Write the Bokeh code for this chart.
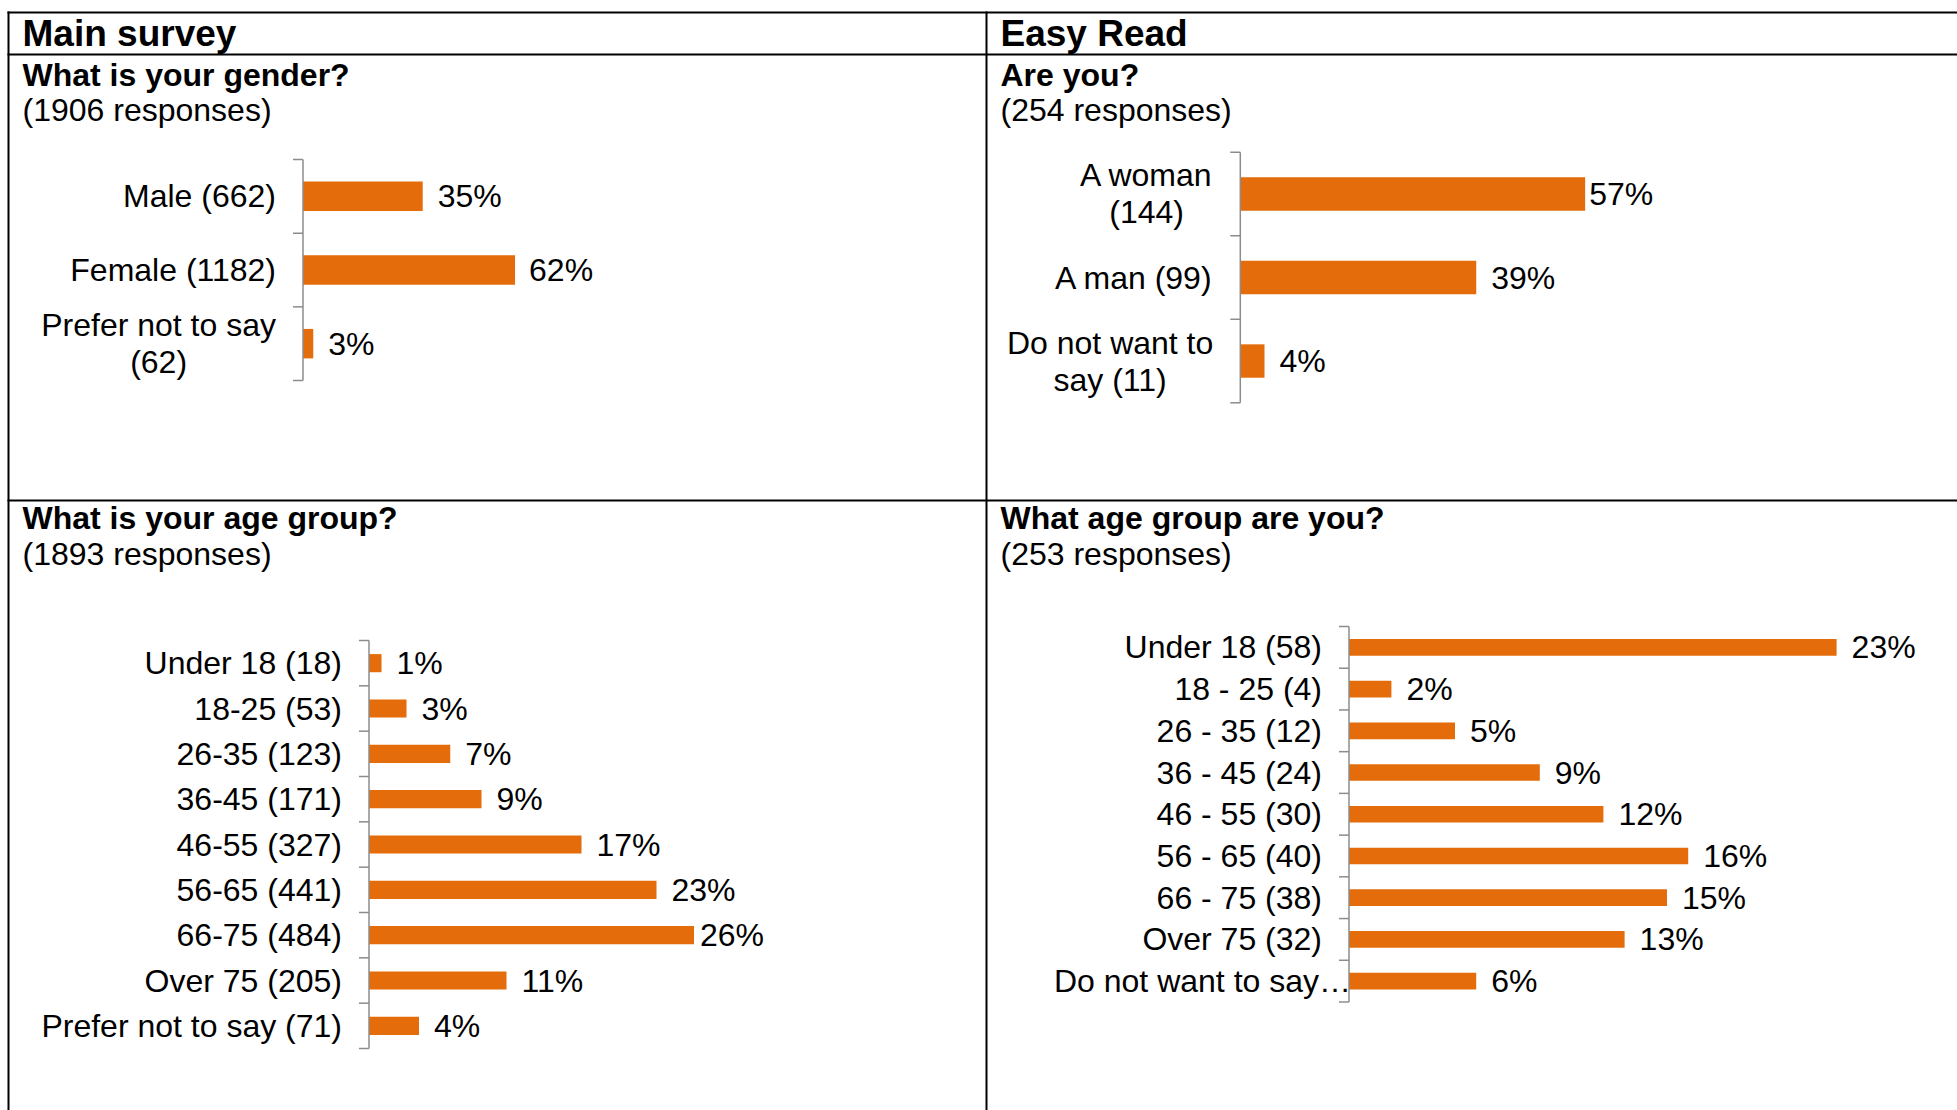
from bokeh.plotting import figure
from bokeh.models import Range1d, ColumnDataSource
from bokeh.core.properties import value
from bokeh.embed import file_html
from bokeh.resources import INLINE

# ---------------- data ----------------
column_headers = ["Main survey", "Easy Read"]
questions = ["What is your gender?", "Are you?",
             "What is your age group?", "What age group are you?"]
responses = ["(1906 responses)", "(254 responses)",
             "(1893 responses)", "(253 responses)"]

main_gender_cats = ["Male (662)", "Female (1182)", "Prefer not to say\n(62)"]
main_gender_pct = [35, 62, 3]

easy_gender_cats = ["A woman\n(144)", "A man (99)", "Do not want to\nsay (11)"]
easy_gender_pct = [57, 39, 4]

main_age_cats = ["Under 18 (18)", "18-25 (53)", "26-35 (123)", "36-45 (171)",
                 "46-55 (327)", "56-65 (441)", "66-75 (484)", "Over 75 (205)",
                 "Prefer not to say (71)"]
main_age_pct = [1, 3, 6.5, 9, 17, 23, 26, 11, 4]

easy_age_cats = ["Under 18 (58)", "18 - 25 (4)", "26 - 35 (12)", "36 - 45 (24)",
                 "46 - 55 (30)", "56 - 65 (40)", "66 - 75 (38)", "Over 75 (32)",
                 "Do not want to say\u2026"]
easy_age_pct = [23, 2, 5, 9, 12, 16, 15, 13, 6]

# ---------------- styles / layout ----------------
W, H = 1957, 1110
FONT = value("Liberation Sans")
ORANGE = "#E46C0A"
AXIS_GREY = "#8C8C8C"
TICK = 10
LINE_PX = 37
LEFT_X, RIGHT_X = 22, 1000

# Arial / Liberation Sans advance widths (1/1000 em) for centring wrapped labels
CW = {' ': 278, '(': 333, ')': 333, 'A': 667, 'D': 722, 'P': 667, 'a': 556, 'e': 556,
      'f': 278, 'm': 833, 'n': 556, 'o': 556, 'r': 333, 's': 500, 't': 278,
      'w': 722, 'y': 500}


def text_w(s, size=32):
    return sum(CW.get(c, 556) for c in s) * size / 1000.0


charts = [
    dict(cats=main_gender_cats, pct=main_gender_pct, axis_x=302.5, top=159.0,
         bottom=380.0, scale=3.42, pct_gap=[15, 14, 15], cat_gap=[27, 27, 27]),
    dict(cats=easy_gender_cats, pct=easy_gender_pct, axis_x=1239.8, top=151.7,
         bottom=402.3, scale=6.05, pct_gap=[4, 15, 15], cat_gap=[27, 27, 27]),
    dict(cats=main_age_cats, pct=main_age_pct, axis_x=368.5, top=640.0,
         bottom=1048.0, scale=12.5, pct_gap=[15, 15, 15, 15, 15, 15, 6, 15, 15],
         cat_gap=[27] * 9),
    dict(cats=easy_age_cats, pct=easy_age_pct, axis_x=1348.5, top=626.0,
         bottom=1001.5, scale=21.2, pct_gap=[15] * 9, cat_gap=[27] * 8 + [-2]),
]

p = figure(width=W, height=H, x_range=Range1d(0, W), y_range=Range1d(H, 0),
           x_axis_location=None, y_axis_location=None, toolbar_location=None,
           output_backend="svg", min_border=0, outline_line_color=None,
           background_fill_color="white", border_fill_color="white")
p.grid.visible = False

# ---- table rules ----
table = ColumnDataSource(dict(
    x0=[7, 8, 7, 986, 7],
    y0=[12, 11, 54, 11, 500],
    x1=[W, 8, W, 986, W],
    y1=[12, H, 54, H, 500],
))
p.segment(x0="x0", y0="y0", x1="x1", y1="y1", source=table,
          line_color="black", line_width=2)

# ---- headers & questions ----
p.text(x=[LEFT_X, RIGHT_X], y=[32.5, 32.5], text=column_headers,
       text_font=FONT, text_font_size="37px", text_font_style="bold",
       text_color="black", text_baseline="middle", text_align="left")
p.text(x=[LEFT_X, RIGHT_X, LEFT_X, RIGHT_X], y=[74.5, 74.5, 517, 517],
       text=questions, text_font=FONT, text_font_size="32px",
       text_font_style="bold", text_color="black", text_baseline="middle")
p.text(x=[LEFT_X, RIGHT_X, LEFT_X, RIGHT_X], y=[109.5, 109.5, 553.5, 553.5],
       text=responses, text_font=FONT, text_font_size="32px",
       text_color="black", text_baseline="middle")

# ---- charts ----
for i, ch in enumerate(charts):
    cats, pct = ch["cats"], ch["pct"]
    n = len(cats)
    band = (ch["bottom"] - ch["top"]) / n
    xr, yr = f"x{i}", f"y{i}"
    p.extra_x_ranges[xr] = Range1d(-ch["axis_x"] / ch["scale"],
                                   (W - ch["axis_x"]) / ch["scale"])
    p.extra_y_ranges[yr] = Range1d((H - ch["top"]) / band - 0.5,
                                   -ch["top"] / band - 0.5)
    idx = list(range(n))

    src = ColumnDataSource(dict(
        idx=idx, pct=pct,
        lbl=[f"{int(v + 0.5)}%" for v in pct],
        gap=ch["pct_gap"],
    ))
    p.hbar(y="idx", left=0, right="pct", height=0.4, source=src,
           x_range_name=xr, y_range_name=yr,
           fill_color=ORANGE, line_color=None)

    # axis line and boundary ticks
    p.segment(x0=[0], y0=[-0.5], x1=[0], y1=[n - 0.5],
              x_range_name=xr, y_range_name=yr,
              line_color=AXIS_GREY, line_width=1.5)
    bounds = [k - 0.5 for k in range(n + 1)]
    p.segment(x0=[0] * (n + 1), y0=bounds, x1=[-TICK / ch["scale"]] * (n + 1),
              y1=bounds, x_range_name=xr, y_range_name=yr,
              line_color=AXIS_GREY, line_width=1.5)

    # value labels
    p.text(x="pct", y="idx", text="lbl", x_offset="gap", source=src,
           x_range_name=xr, y_range_name=yr, text_font=FONT,
           text_font_size="32px", text_color="black",
           text_align="left", text_baseline="middle")

    # category labels
    s_y, s_t, s_o = [], [], []
    m_y, m_t, m_o = [], [], []
    for j, c in enumerate(cats):
        lines = c.split("\n")
        if len(lines) == 1:
            s_y.append(j)
            s_t.append(c)
            s_o.append(-ch["cat_gap"][j])
        else:
            wmax = max(text_w(l) for l in lines)
            for k, l in enumerate(lines):
                m_y.append(j + (k - (len(lines) - 1) / 2) * LINE_PX / band)
                m_t.append(l)
                m_o.append(-(ch["cat_gap"][j] + wmax / 2))
    if s_t:
        p.text(x="x", y="y", text="t", x_offset="o",
               source=ColumnDataSource(dict(x=[0] * len(s_t), y=s_y, t=s_t, o=s_o)),
               x_range_name=xr, y_range_name=yr, text_font=FONT,
               text_font_size="32px", text_color="black",
               text_align="right", text_baseline="middle")
    if m_t:
        p.text(x="x", y="y", text="t", x_offset="o",
               source=ColumnDataSource(dict(x=[0] * len(m_t), y=m_y, t=m_t, o=m_o)),
               x_range_name=xr, y_range_name=yr, text_font=FONT,
               text_font_size="32px", text_color="black",
               text_align="center", text_baseline="middle")

open("out.html", "w").write(file_html(p, INLINE, title="Survey demographics"))
